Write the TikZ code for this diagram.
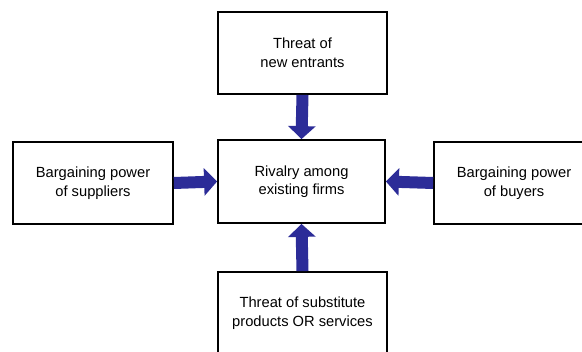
\documentclass[tikz,border=0pt]{standalone}
\usepackage{fontspec}
\setmainfont{Liberation Sans}
\usepackage{tikz}
\usetikzlibrary{arrows.meta}
\usetikzlibrary{positioning}
\definecolor{forceblue}{RGB}{44,44,152}

\begin{document}
\begin{tikzpicture}[x=1pt,y=-1pt]

\tikzset{
  % plain box for each of the five forces
  force/.style={draw=black, line width=1.8pt, fill=white, align=center,
    inner sep=2pt, font=\fontsize{14.7}{18.5}\selectfont},
  % fat blue arrow pushing into the middle box
  push/.style={draw=forceblue, line width=12pt,
    -{Triangle[width=27pt,length=13pt]}},
}

\useasboundingbox (0,0) rectangle (582,352);
\clip (0,0) rectangle (582,352);

\node (mid) [force, minimum width=167pt, minimum height=83pt] at (301.5,181.5)
    {Rivalry among\\existing firms};
\node (entrants) [force, minimum width=169pt, minimum height=82pt] at (302.5,53)
    {Threat of\\new entrants};
\node (suppliers) [force, minimum width=160pt, minimum height=82pt] at (93,183)
    {Bargaining power\\of suppliers};
\node (buyers) [force, minimum width=160pt, minimum height=82pt] at (514,183)
    {Bargaining power\\of buyers};
\node (substitutes) [force, minimum width=169pt, minimum height=82pt] at (302.5,313)
    {Threat of substitute\\products OR services};

\draw [push] (entrants.south) -- (mid.north);
\draw [push] (suppliers.east) -- (mid.west);
\draw [push] (buyers.west) -- (mid.east);
\draw [push] (substitutes.north) -- (mid.south);

\end{tikzpicture}
\end{document}
